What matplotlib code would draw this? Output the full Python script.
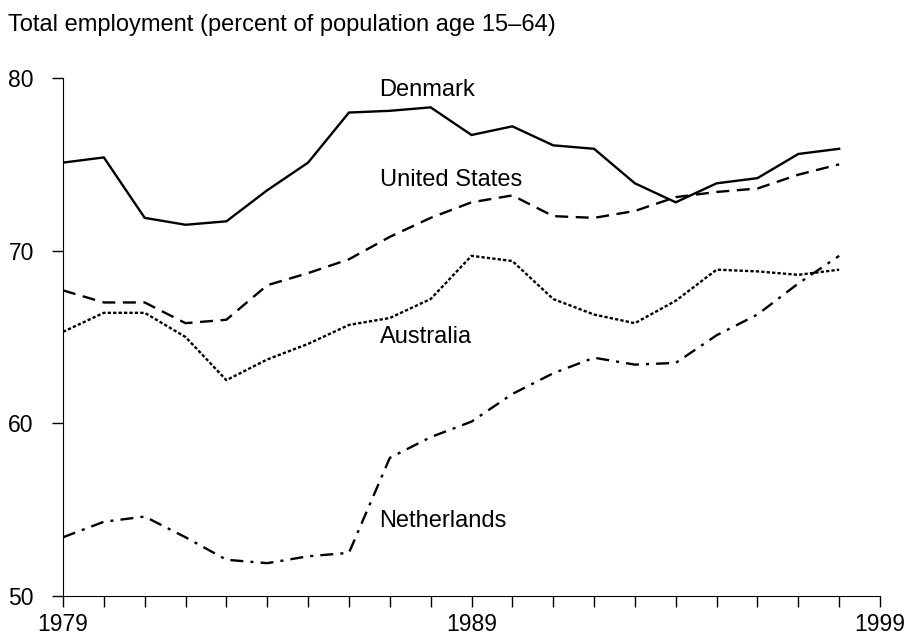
import matplotlib
matplotlib.use("Agg")
import matplotlib.pyplot as plt

plt.rcParams['font.family'] = ['Liberation Sans', 'DejaVu Sans']

years = list(range(1979, 1999))
denmark = [75.1, 75.4, 71.9, 71.5, 71.7, 73.5, 75.1, 78.0, 78.1, 78.3, 76.7, 77.2, 76.1, 75.9, 73.9, 72.8, 73.9, 74.2, 75.6, 75.9]
united_states = [67.7, 67.0, 67.0, 65.8, 66.0, 68.0, 68.7, 69.5, 70.8, 71.9, 72.8, 73.2, 72.0, 71.9, 72.3, 73.1, 73.4, 73.6, 74.4, 75.0]
australia = [65.3, 66.4, 66.4, 65.0, 62.5, 63.7, 64.6, 65.7, 66.1, 67.2, 69.7, 69.4, 67.2, 66.3, 65.8, 67.1, 68.9, 68.8, 68.6, 68.9]
netherlands = [53.4, 54.3, 54.6, 53.4, 52.1, 51.9, 52.3, 52.5, 58.0, 59.2, 60.1, 61.7, 62.9, 63.8, 63.4, 63.5, 65.1, 66.3, 68.1, 69.7]

label_x = 1986.75
labels = [("Denmark", 79.3), ("United States", 74.1), ("Australia", 65.0), ("Netherlands", 54.35)]

fig = plt.figure(figsize=(9.09, 6.42), dpi=100)
ax = fig.add_axes([63/909, 1-596/642, (880-63)/909, (596-78)/642])

lw = 1.7
ax.plot(years, denmark, color='black', lw=lw, solid_joinstyle='miter')
ax.plot(years, united_states, color='black', lw=lw, dashes=(5.5, 3.2))
ax.plot(years, australia, color='black', lw=lw, dashes=(1.4, 0.9))
ax.plot(years, netherlands, color='black', lw=lw, dashes=(5.5, 3, 1.3, 3))

for text, yv in labels:
    ax.text(label_x, yv, text, fontsize=17, ha='left', va='center')

ax.set_xlim(1979, 1999)
ax.set_ylim(50, 80)
ax.set_xticks(range(1979, 2000))
ax.set_xticklabels([str(y) if y in (1979, 1989, 1999) else '' for y in range(1979, 2000)])
ax.set_yticks([50, 60, 70, 80])
ax.spines['top'].set_visible(False)
ax.spines['right'].set_visible(False)
ax.tick_params(axis='both', direction='out', length=8, width=1, labelsize=16.5)
ax.tick_params(axis='x', pad=4)
ax.tick_params(axis='y', pad=13)

fig.text(8/909, 1-25/642, "Total employment (percent of population age 15–64)", fontsize=17, ha='left', va='center')

fig.savefig("out.png", dpi=100)
